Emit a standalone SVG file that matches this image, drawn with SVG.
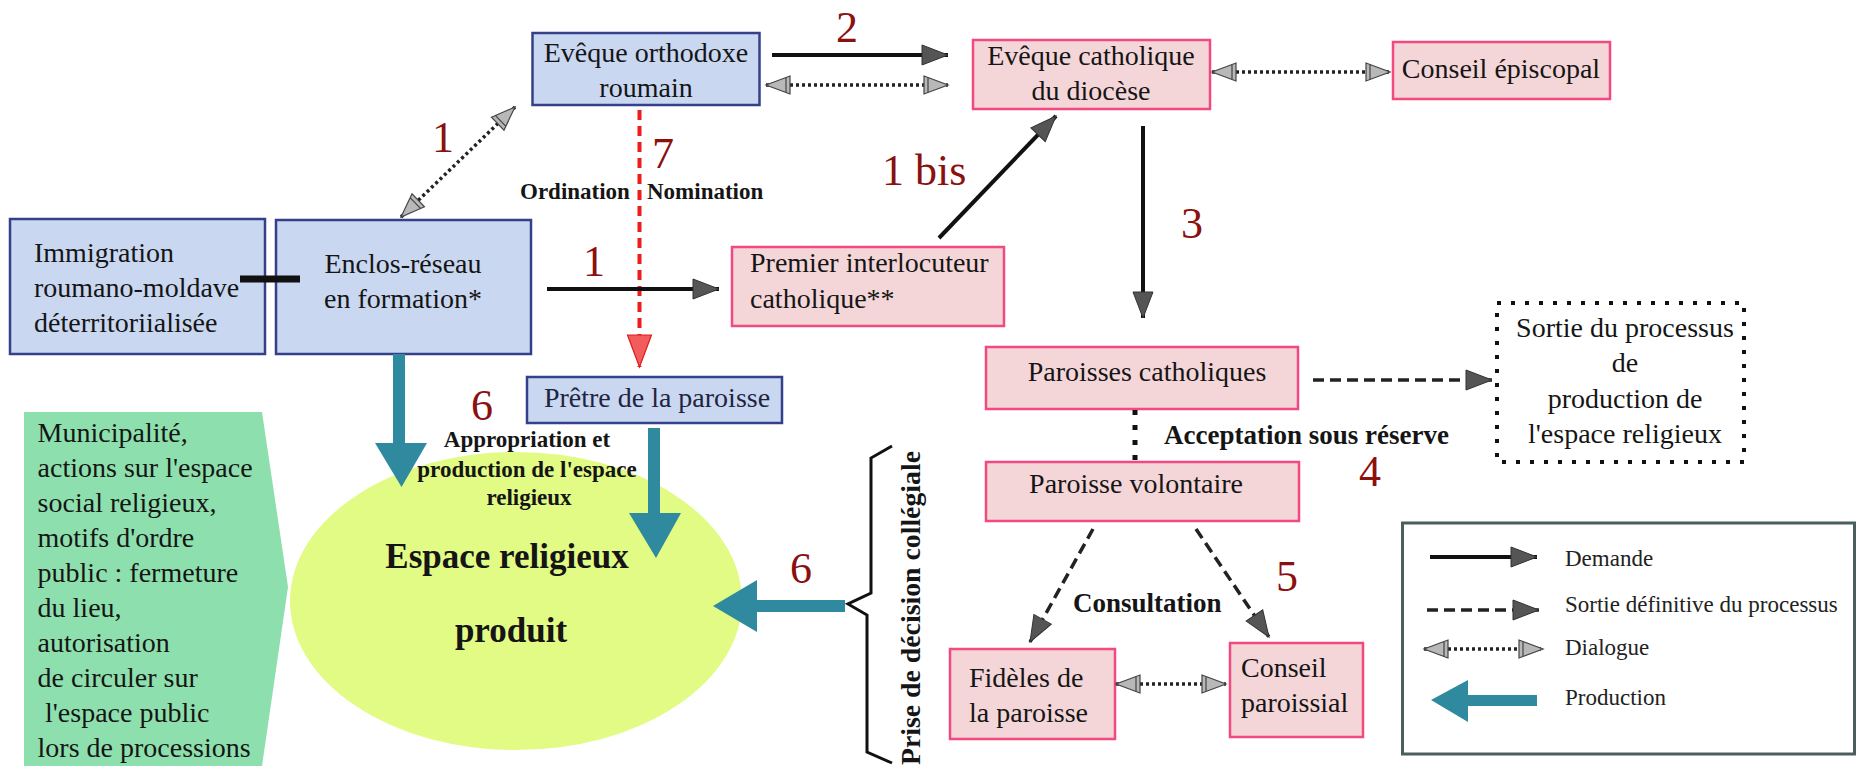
<svg xmlns="http://www.w3.org/2000/svg" width="1856" height="766" viewBox="0 0 1856 766">
<style>
text{font-family:"Liberation Serif","Times New Roman",serif;fill:#151515}
.t{font-size:28px}
.c{text-anchor:middle}
.b{font-weight:bold}
.num{font-size:44px;fill:#8b1010}
.lg{font-size:23px;fill:#222}
.blue{fill:#c9d7f1;stroke:#34408a;stroke-width:2.5}
.pink{fill:#f4d5d8;stroke:#f04a80;stroke-width:2.5}
.solid{stroke:#111;stroke-width:4;fill:none}
.dash{stroke:#222;stroke-width:3.5;stroke-dasharray:11 6;fill:none}
.dot{stroke:#222;stroke-width:3.5;stroke-dasharray:3 3;fill:none}
.teal{fill:#2f8aa0}
</style>
<defs>
<marker id="ah" markerUnits="userSpaceOnUse" markerWidth="30" markerHeight="24" refX="27" refY="11" orient="auto">
<path d="M1,1 L27,11 L1,21 Z" fill="#555" stroke="#333" stroke-width="1"/>
</marker>
<marker id="gh" markerUnits="userSpaceOnUse" markerWidth="28" markerHeight="22" refX="25" refY="10" orient="auto-start-reverse">
<path d="M1,1 L25,10 L1,19 Z M5,2 L5,18" fill="#b8b8b8" stroke="#444" stroke-width="1.2"/>
</marker>
<marker id="rh" markerUnits="userSpaceOnUse" markerWidth="36" markerHeight="28" refX="33" refY="13" orient="auto">
<path d="M1,1 L33,13 L1,25 Z" fill="#f25c5c" stroke="#e01b1b" stroke-width="1.2"/>
</marker>
</defs>

<g id="municipalite">
<polygon points="24,412 262,412 288,587 262,766 24,766" fill="#8de0ad"/>
<text class="t" x="37.6" y="442">Municipalité,</text>
<text class="t" x="37.6" y="477">actions sur l'espace</text>
<text class="t" x="37.6" y="512">social religieux,</text>
<text class="t" x="37.6" y="547">motifs d'ordre</text>
<text class="t" x="37.6" y="582">public : fermeture</text>
<text class="t" x="37.6" y="617">du lieu,</text>
<text class="t" x="37.6" y="652">autorisation</text>
<text class="t" x="37.6" y="687">de circuler sur</text>
<text class="t" x="45" y="722">l'espace public</text>
<text class="t" x="37.6" y="757">lors de processions</text>
</g>

<g id="espace">
<ellipse cx="516" cy="601" rx="226" ry="149" fill="#e1fb84"/>
<text class="c b" x="507" y="568" font-size="35">Espace religieux</text>
<text class="c b" x="511" y="642" font-size="35">produit</text>
</g>

<g id="evq_orth">
<rect class="blue" x="532.5" y="33" width="227" height="72"/>
<text class="t c" x="646" y="62">Evêque orthodoxe</text>
<text class="t c" x="646" y="97">roumain</text>
</g>
<g id="evq_cath">
<rect class="pink" x="973" y="40" width="237" height="69"/>
<text class="t c" x="1091" y="65">Evêque catholique</text>
<text class="t c" x="1091" y="100">du diocèse</text>
</g>
<g id="conseil_ep">
<rect class="pink" x="1393" y="42" width="217" height="57"/>
<text class="t c" x="1501" y="78">Conseil épiscopal</text>
</g>
<g id="immigration">
<rect class="blue" x="10" y="219" width="255" height="135"/>
<text class="t" x="34" y="262">Immigration</text>
<text class="t" x="34" y="297">roumano-moldave</text>
<text class="t" x="34" y="332">déterritoriialisée</text>
</g>
<g id="enclos">
<rect class="blue" x="276" y="220" width="255" height="134"/>
<text class="t c" x="403" y="273">Enclos-réseau</text>
<text class="t c" x="403" y="308">en formation*</text>
</g>
<g id="premier">
<rect class="pink" x="732" y="247" width="272" height="79"/>
<text class="t" x="750" y="272">Premier interlocuteur</text>
<text class="t" x="750" y="308">catholique**</text>
</g>
<g id="pretre">
<rect class="blue" x="527" y="377" width="255" height="46"/>
<text class="t c" x="657" y="407" style="fill:#1e2540">Prêtre de la paroisse</text>
</g>
<g id="paroisses">
<rect class="pink" x="986" y="347" width="312" height="62"/>
<text class="t c" x="1147" y="381">Paroisses catholiques</text>
</g>
<g id="volontaire">
<rect class="pink" x="986" y="462" width="313" height="59"/>
<text class="t c" x="1136" y="493">Paroisse volontaire</text>
</g>
<g id="sortie">
<rect x="1497" y="303" width="247" height="159" fill="none" stroke="#111" stroke-width="4" stroke-dasharray="4 10"/>
<text class="t c" x="1625" y="337">Sortie du processus</text>
<text class="t c" x="1625" y="372">de</text>
<text class="t c" x="1625" y="408">production de</text>
<text class="t c" x="1625" y="443">l'espace religieux</text>
</g>
<g id="fideles">
<rect class="pink" x="950" y="649" width="165" height="90"/>
<text class="t" x="969" y="687">Fidèles de</text>
<text class="t" x="969" y="722">la paroisse</text>
</g>
<g id="conseil_par">
<rect class="pink" x="1230" y="643" width="133" height="94"/>
<text class="t" x="1241" y="677">Conseil</text>
<text class="t" x="1241" y="712">paroissial</text>
</g>

<g id="connectors">
<line x1="240" y1="279" x2="300" y2="279" stroke="#111" stroke-width="7"/>
<line class="dot" x1="401" y1="217" x2="515" y2="107" marker-start="url(#gh)" marker-end="url(#gh)"/>
<line class="solid" x1="772" y1="55" x2="948" y2="55" marker-end="url(#ah)"/>
<line class="dot" x1="766" y1="85" x2="948" y2="85" marker-start="url(#gh)" marker-end="url(#gh)"/>
<line class="dot" x1="1212" y1="72" x2="1390" y2="72" marker-start="url(#gh)" marker-end="url(#gh)"/>
<line x1="639.5" y1="110" x2="639.5" y2="367" stroke="#ee1c1c" stroke-width="4" stroke-dasharray="10 6" marker-end="url(#rh)"/>
<line class="solid" x1="547" y1="289" x2="719" y2="289" marker-end="url(#ah)"/>
<line class="solid" x1="939" y1="238" x2="1056" y2="116" marker-end="url(#ah)"/>
<line class="solid" x1="1143" y1="126" x2="1143" y2="318" marker-end="url(#ah)"/>
<line class="dash" x1="1313" y1="380" x2="1492" y2="380" marker-end="url(#ah)"/>
<line x1="1135" y1="410" x2="1135" y2="465" stroke="#111" stroke-width="5" stroke-dasharray="5 10"/>
<line class="dash" x1="1093" y1="529" x2="1030" y2="642" stroke-dasharray="8 5" marker-end="url(#ah)"/>
<line class="dash" x1="1196" y1="529" x2="1269" y2="637" stroke-dasharray="8 5" marker-end="url(#ah)"/>
<line class="dot" x1="1116" y1="684" x2="1226" y2="684" marker-start="url(#gh)" marker-end="url(#gh)"/>
<polygon class="teal" points="393,354 405,354 405,443 427,443 401.5,487 375,443 393,443"/>
<polygon class="teal" points="648,428 660,428 660,513 681,513 656,558 629,513 648,513"/>
<polygon class="teal" points="845,600 845,612 757,612 757,632 713,606 757,580 757,600"/>
<path d="M892,446 L871,458 L871,593 L848,604 L867,615 L867,752 L892,763" fill="none" stroke="#111" stroke-width="3"/>
</g>

<g id="labels">
<text class="num c" x="443" y="152">1</text>
<text class="num c" x="847" y="42">2</text>
<text class="num c" x="663" y="168" font-size="42">7</text>
<text class="num" x="882" y="185">1 bis</text>
<text class="num c" x="594" y="276">1</text>
<text class="num c" x="1192" y="238">3</text>
<text class="num c" x="482" y="420">6</text>
<text class="num c" x="801" y="583">6</text>
<text class="num c" x="1370" y="486">4</text>
<text class="num c" x="1287" y="591">5</text>
<text class="b" x="520" y="199" font-size="23">Ordination</text>
<text class="b" x="647" y="199" font-size="23">Nomination</text>
<text class="b c" x="527" y="447" font-size="23">Appropriation et</text>
<text class="b c" x="527" y="477" font-size="23">production de l'espace</text>
<text class="b c" x="529" y="505" font-size="23">religieux</text>
<text class="b" x="1164" y="444" font-size="27">Acceptation sous réserve</text>
<text class="b" x="1073" y="612" font-size="27">Consultation</text>
<text class="b" transform="translate(920,765) rotate(-90)" font-size="27" textLength="314" lengthAdjust="spacingAndGlyphs">Prise de décision collégiale</text>
</g>

<g id="legend">
<rect x="1402.5" y="523" width="452" height="231" fill="#fff" stroke="#4a5e5e" stroke-width="3"/>
<line class="solid" x1="1430" y1="557" x2="1537" y2="557" stroke-width="3.5" marker-end="url(#ah)"/>
<line class="dash" x1="1427" y1="610" x2="1539" y2="610" stroke-dasharray="8 5" marker-end="url(#ah)"/>
<line class="dot" x1="1424" y1="649" x2="1543" y2="649" stroke-width="3" marker-start="url(#gh)" marker-end="url(#gh)"/>
<polygon class="teal" points="1537,695 1537,706 1468,706 1468,722 1431,700 1468,680 1468,695"/>
<text class="lg" x="1565" y="566">Demande</text>
<text class="lg" x="1565" y="612">Sortie définitive du processus</text>
<text class="lg" x="1565" y="655">Dialogue</text>
<text class="lg" x="1565" y="705">Production</text>
</g>
</svg>
